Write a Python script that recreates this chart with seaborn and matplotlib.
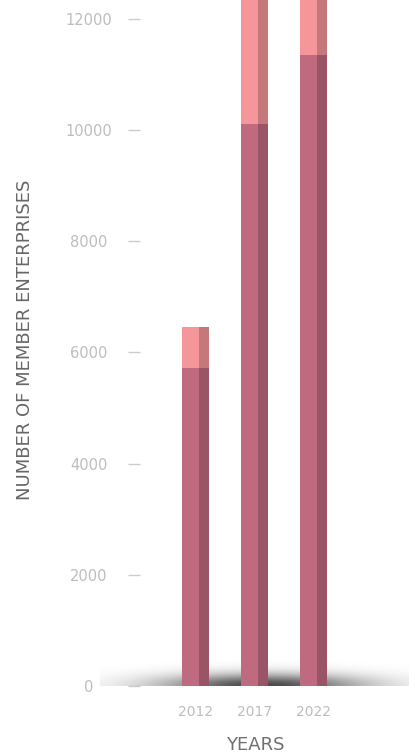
import numpy as np
import pandas as pd
import matplotlib
matplotlib.use("Agg")
import matplotlib.pyplot as plt
import seaborn as sns
from matplotlib.patches import Rectangle

years = ["2012", "2017", "2022"]
base_members = [5720, 10110, 11350]
total_members = [6460, 13200, 13000]
yticks = [0, 2000, 4000, 6000, 8000, 10000, 12000]

sns.set_theme(style="white")
plt.rcParams['font.family'] = ['DejaVu Sans']

df = pd.DataFrame({"year": years, "base": base_members, "total": total_members})

W, H, DPI = 409, 754, 100
fig = plt.figure(figsize=(W / DPI, H / DPI), dpi=DPI)
ax_left, ax_bottom = 140 / W, 68 / H
ax = fig.add_axes([ax_left, ax_bottom, 1 - ax_left, 1 - ax_bottom])

bw = 0.46
sns.barplot(data=df, x="year", y="total", color="#F5969A", saturation=1,
            width=bw, ax=ax, zorder=3, linewidth=0, edgecolor="none")
sns.barplot(data=df, x="year", y="base", color="#C06A80", saturation=1,
            width=bw, ax=ax, zorder=4, linewidth=0, edgecolor="none")

# darker right strip on each bar for a 3D look
for p in list(ax.patches):
    x, y = p.get_x(), p.get_y()
    w, h = p.get_width(), p.get_height()
    ax.add_patch(Rectangle((x + w * 0.63, y), w * 0.37, h, facecolor="black",
                           alpha=0.2, edgecolor="none", linewidth=0,
                           zorder=p.get_zorder() + 0.5))

# soft floor shadow
px_per_unit_x = 59.0
xl = (-0.94, -0.94 + (W - 140) / px_per_unit_x)
ylim_top = 12340
units_per_px_y = ylim_top / (H - 68)
sx0 = (100 - 195.5) / px_per_unit_x
sx1 = (409 - 195.5) / px_per_unit_x
sh = 30 * units_per_px_y
nx, ny = 400, 80
gx = np.linspace(0, 1, nx)
gy = np.linspace(0, 1, ny)
X, Y = np.meshgrid(gx, gy)
xc = (262 - 100) / 309
alpha = 0.72 * np.exp(-((X - xc) / 0.33) ** 2 - (Y / 0.4) ** 2)
img = np.zeros((ny, nx, 4))
img[..., 3] = alpha
ax.imshow(img, extent=(sx0, sx1, 0, sh), origin="lower", aspect="auto",
          zorder=2, clip_on=False, interpolation="bilinear")
ax.set_xlim(*xl)
ax.set_ylim(0, ylim_top)

sns.despine(ax=ax, left=True, bottom=True, right=True, top=True)
ax.set_yticks(yticks)
ax.set_yticklabels([str(t) for t in yticks])
ax.tick_params(axis="y", length=9, width=1, color="#cccccc", pad=28,
               labelcolor="#bdbdbd", labelsize=10.5, left=True)
for lbl in ax.get_yticklabels():
    lbl.set_horizontalalignment("center")
ax.tick_params(axis="x", length=0, pad=14, labelcolor="#bdbdbd", labelsize=10)

ax.set_xlabel("YEARS", fontsize=13, color="#707070")
ax.set_ylabel("NUMBER OF MEMBER ENTERPRISES", fontsize=13, color="#666666")
ax.xaxis.set_label_coords((255 - 140) / (W - 140), (686 - 745) / 686)
ax.xaxis.label.set_va("center")
ax.yaxis.set_label_coords((25 - 140) / (W - 140), (686 - 340) / 686)
ax.yaxis.label.set_va("center")

fig.savefig("out.png", dpi=DPI)
